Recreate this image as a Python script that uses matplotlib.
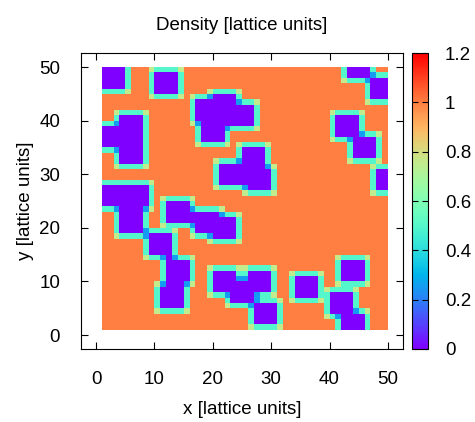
import numpy as np
import matplotlib
matplotlib.use("Agg")
import matplotlib.pyplot as plt

plt.rcParams['font.family'] = ['Liberation Sans', 'DejaVu Sans']

# lattice 50 x 50, nodes at 1..50
n_nodes = 50
bulk_density = 1.0

# blocks of empty (zero density) nodes, inclusive ranges
block_x0 = [1, 10, 4, 1, 17, 18, 20, 18, 1, 4, 9, 12, 11, 25, 21, 26, 12, 17, 20,
            43, 47, 41, 44, 48, 20, 23, 26, 27, 34, 42, 40, 42]
block_x1 = [5, 14, 8, 4, 24, 27, 24, 22, 9, 8, 13, 16, 15, 29, 25, 30, 16, 21, 24,
            47, 50, 45, 48, 50, 24, 27, 30, 31, 38, 46, 44, 46]
block_y0 = [46, 45, 32, 35, 40, 39, 44, 36, 24, 19, 15, 10, 5, 32, 28, 27, 21, 19, 18,
            48, 44, 37, 33, 27, 8, 6, 8, 2, 7, 10, 4, 1]
block_y1 = [50, 49, 41, 39, 44, 43, 45, 39, 28, 24, 19, 14, 9, 35, 32, 31, 25, 23, 22,
            50, 48, 41, 37, 31, 12, 10, 12, 6, 11, 14, 8, 4]

x_ticks = [0, 10, 20, 30, 40, 50]
y_ticks = [0, 10, 20, 30, 40, 50]
cb_ticks = [0, 0.2, 0.4, 0.6, 0.8, 1.0, 1.2]
cb_labels = ['0', '0.2', '0.4', '0.6', '0.8', '1', '1.2']

rho = np.full((n_nodes, n_nodes), bulk_density)
for x0, x1, y0, y1 in zip(block_x0, block_x1, block_y0, block_y1):
    rho[y0 - 1:y1, x0 - 1:x1] = 0.0

# pm3d style: each quad gets the mean of its four corners
quad = 0.25 * (rho[:-1, :-1] + rho[1:, :-1] + rho[:-1, 1:] + rho[1:, 1:])
edges = np.arange(1, n_nodes + 1)

fs = 13.5
fig = plt.figure(figsize=(4.75, 4.22), dpi=100)
ax = fig.add_axes([0.1705, 0.173, 0.678, 0.701])
mesh = ax.pcolormesh(edges, edges, quad, cmap='rainbow', vmin=0, vmax=1.2,
                     shading='flat', edgecolors='none')

ax.set_xlim(-2.6, 52.6)
ax.set_ylim(-2.6, 52.6)
ax.set_xticks(x_ticks)
ax.set_yticks(y_ticks)
ax.tick_params(direction='in', length=5, width=0.8, top=True, right=True,
               labelsize=fs, colors='black')
ax.tick_params(axis='x', pad=16)
ax.tick_params(axis='y', pad=15)
for s in ax.spines.values():
    s.set_linewidth(0.8)

ax.set_title('Density [lattice units]', fontsize=fs, pad=17)
ax.set_xlabel('x [lattice units]', fontsize=fs, labelpad=9)
ax.set_ylabel('y [lattice units]', fontsize=fs, labelpad=4)

cax = fig.add_axes([0.868, 0.173, 0.034, 0.701])
cb = fig.colorbar(mesh, cax=cax, ticks=cb_ticks)
cb.ax.set_yticklabels(cb_labels)
cb.ax.tick_params(direction='in', length=4, width=0.8, labelsize=fs, pad=12,
                  left=True, right=True)
cb.outline.set_linewidth(0.8)

fig.savefig('out.png', dpi=100)
